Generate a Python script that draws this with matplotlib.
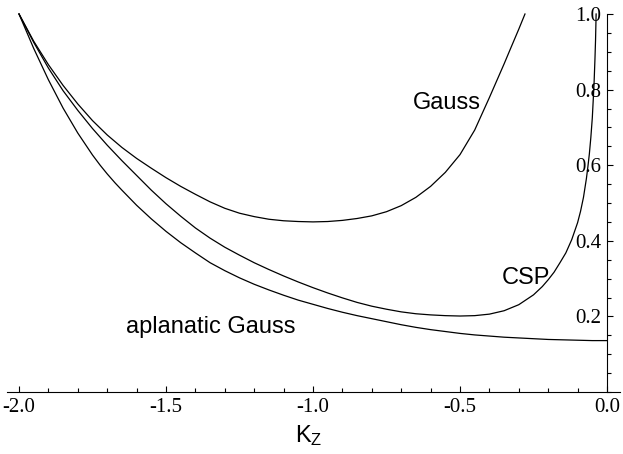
import matplotlib
matplotlib.use('Agg')
import matplotlib.pyplot as plt
from matplotlib.ticker import MultipleLocator

# Werte
gauss_x = [-2.0, -1.95, -1.9, -1.85, -1.8, -1.75, -1.7, -1.65, -1.6, -1.55, -1.5, -1.45,
           -1.4, -1.35, -1.3, -1.25, -1.2, -1.15, -1.1, -1.05, -1.0, -0.95, -0.9, -0.85,
           -0.8, -0.75, -0.7, -0.65, -0.6, -0.55, -0.5, -0.45, -0.4, -0.35, -0.33, -0.3,
           -0.279]
gauss_y = [1.0, 0.928, 0.866, 0.811, 0.762, 0.718, 0.680, 0.647, 0.618, 0.592, 0.567,
           0.544, 0.523, 0.503, 0.486, 0.473, 0.464, 0.457, 0.453, 0.451, 0.450, 0.451,
           0.454, 0.459, 0.466, 0.477, 0.493, 0.515, 0.544, 0.581, 0.628, 0.693, 0.779,
           0.868, 0.905, 0.960, 1.0]

csp_x = [-2.0, -1.95, -1.9, -1.85, -1.8, -1.75, -1.7, -1.65, -1.6, -1.55, -1.5, -1.45,
         -1.4, -1.35, -1.3, -1.25, -1.2, -1.15, -1.1, -1.05, -1.0, -0.95, -0.9, -0.85,
         -0.8, -0.75, -0.7, -0.65, -0.6, -0.55, -0.5, -0.45, -0.4, -0.35, -0.3, -0.25,
         -0.22, -0.2, -0.18, -0.16, -0.14, -0.12, -0.1, -0.09, -0.08, -0.07, -0.065,
         -0.06, -0.055, -0.05, -0.047, -0.044, -0.041, -0.039, -0.037]
csp_y = [1.0, 0.925, 0.857, 0.797, 0.745, 0.697, 0.653, 0.612, 0.573, 0.534, 0.498,
         0.465, 0.434, 0.407, 0.383, 0.362, 0.342, 0.324, 0.307, 0.291, 0.276, 0.262,
         0.249, 0.237, 0.227, 0.219, 0.212, 0.207, 0.204, 0.202, 0.201, 0.202, 0.206,
         0.215, 0.231, 0.257, 0.279, 0.297, 0.317, 0.342, 0.368, 0.403, 0.448, 0.478,
         0.515, 0.565, 0.596, 0.630, 0.673, 0.725, 0.770, 0.817, 0.880, 0.930, 1.0]

aplan_x = [-2.0, -1.95, -1.9, -1.85, -1.8, -1.75, -1.724, -1.7, -1.673, -1.65, -1.6,
           -1.55, -1.5, -1.45, -1.4, -1.35, -1.3, -1.25, -1.2, -1.15, -1.1, -1.05, -1.0,
           -0.95, -0.9, -0.85, -0.8, -0.75, -0.7, -0.65, -0.6, -0.55, -0.5, -0.45, -0.4,
           -0.35, -0.3, -0.25, -0.2, -0.15, -0.1, -0.05, 0.0]
aplan_y = [1.0, 0.909, 0.826, 0.751, 0.685, 0.627, 0.600, 0.577, 0.553, 0.534, 0.494,
           0.458, 0.425, 0.395, 0.368, 0.342, 0.321, 0.302, 0.285, 0.270, 0.256, 0.243,
           0.232, 0.221, 0.211, 0.202, 0.194, 0.186, 0.178, 0.171, 0.165, 0.160, 0.155,
           0.151, 0.148, 0.145, 0.143, 0.141, 0.139, 0.138, 0.137, 0.136, 0.136]

x_major = [-2.0, -1.5, -1.0, -0.5, 0.0]
x_labels = ['-2.0', '-1.5', '-1.0', '-0.5', '0.0']
y_major = [0.2, 0.4, 0.6, 0.8, 1.0]
y_labels = ['0.2', '0.4', '0.6', '0.8', '1.0']

fig = plt.figure(figsize=(6.23, 4.54), dpi=100)
ax = fig.add_axes([0.0, 62 / 454, 1.0, 392 / 454])

for xs, ys in [(gauss_x, gauss_y), (csp_x, csp_y), (aplan_x, aplan_y)]:
    ax.plot(xs, ys, color='black', lw=0.9)

ax.set_xlim(-2.0 - 19 / 294, -2.0 + 604 / 294)
ax.set_ylim(0, 392 / 378)

# Achsen wie bei Mathematica: y-Achse bei x = 0
for s in ['top', 'right']:
    ax.spines[s].set_visible(False)
ax.spines['left'].set_position(('data', 0.0))
ax.spines['left'].set_bounds(0, 1.0)
ax.spines['bottom'].set_bounds(-2.041, 0.045)
for s in ['left', 'bottom']:
    ax.spines[s].set_linewidth(0.8)

ax.set_xticks(x_major)
ax.set_xticklabels(x_labels)
ax.set_yticks(y_major)
ax.set_yticklabels(y_labels)
ax.xaxis.set_minor_locator(MultipleLocator(0.1))
ax.yaxis.set_minor_locator(MultipleLocator(0.05))
ax.tick_params(which='both', direction='in', width=0.8, labelsize=15, pad=4)
ax.tick_params(which='major', length=4.5)
ax.tick_params(which='minor', length=3)
for lab in ax.get_xticklabels() + ax.get_yticklabels():
    lab.set_fontfamily('Liberation Serif')
ax.patch.set_visible(False)

sans = 'Liberation Sans'
ax.text(-0.544, 0.765, 'Gauss', fontsize=17, family=sans, ha='center', va='center')
ax.text(-0.276, 0.302, 'CSP', fontsize=17, family=sans, ha='center', va='center')
ax.text(-1.061, 0.171, 'aplanatic Gauss', fontsize=17, family=sans, ha='right', va='center')

fig.text((19 + 294 - 4) / 623, 18 / 454, r'$\mathregular{K_Z}$', fontsize=17,
         family=sans, ha='center', va='center')

fig.savefig('out.png', dpi=100)
